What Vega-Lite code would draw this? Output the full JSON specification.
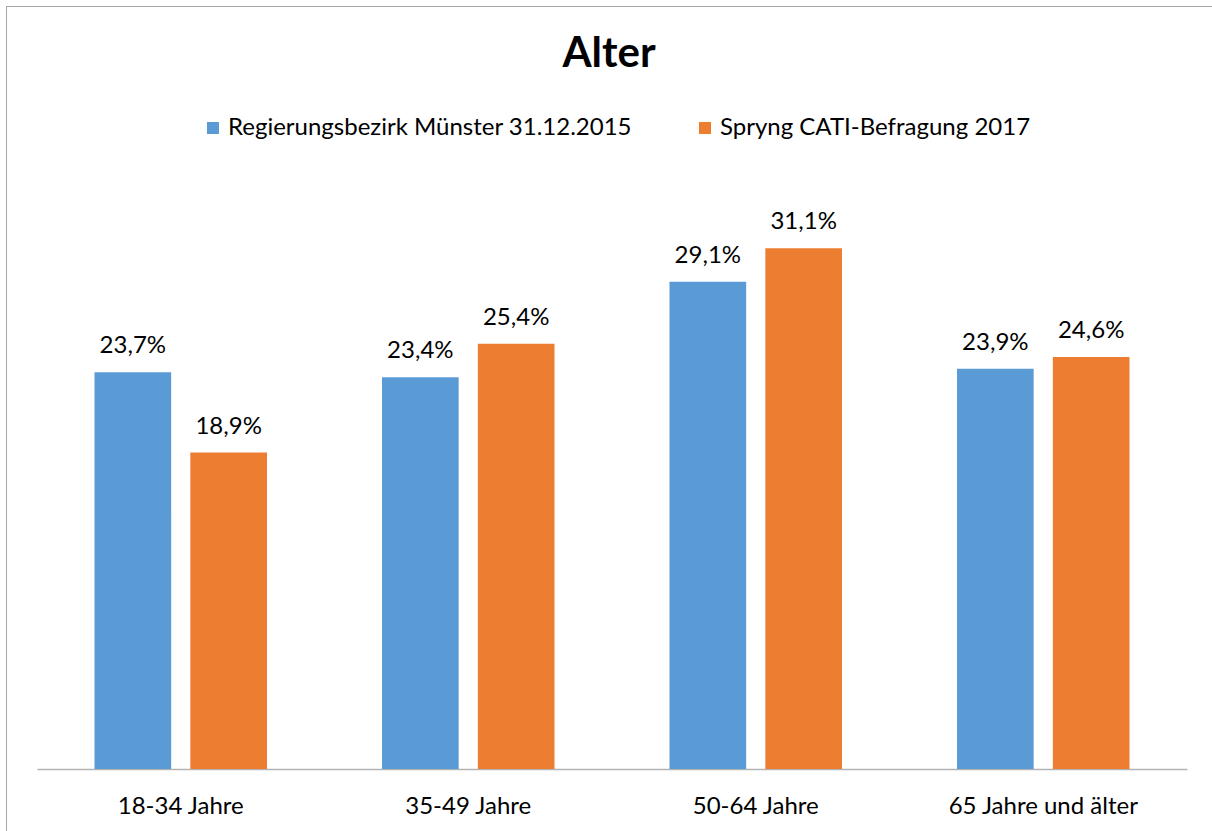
{
  "$schema": "https://vega.github.io/schema/vega-lite/v6.json",
  "width": 1206,
  "height": 825,
  "autosize": "none",
  "padding": {"left": 6, "top": 6, "right": 0, "bottom": 0},
  "background": "white",
  "view": {"stroke": "transparent", "strokeWidth": 0},
  "config": {
    "view": {"stroke": "transparent", "strokeWidth": 0},
    "font": "Lato",
    "locale": {"number": {"decimal": ",", "thousands": ".", "grouping": [3], "currency": ["", " €"]}}
  },
  "title": {
    "text": "Alter",
    "fontSize": 42,
    "fontWeight": "bold",
    "font": "Lato",
    "color": "black",
    "anchor": "middle",
    "frame": "group",
    "offset": -70
  },
  "datasets": {
    "alter": [
      {"Alter": "18-34 Jahre", "Quelle": "Regierungsbezirk Münster 31.12.2015", "Anteil": 0.237},
      {"Alter": "18-34 Jahre", "Quelle": "Spryng CATI-Befragung 2017", "Anteil": 0.189},
      {"Alter": "35-49 Jahre", "Quelle": "Regierungsbezirk Münster 31.12.2015", "Anteil": 0.234},
      {"Alter": "35-49 Jahre", "Quelle": "Spryng CATI-Befragung 2017", "Anteil": 0.254},
      {"Alter": "50-64 Jahre", "Quelle": "Regierungsbezirk Münster 31.12.2015", "Anteil": 0.291},
      {"Alter": "50-64 Jahre", "Quelle": "Spryng CATI-Befragung 2017", "Anteil": 0.311},
      {"Alter": "65 Jahre und älter", "Quelle": "Regierungsbezirk Münster 31.12.2015", "Anteil": 0.239},
      {"Alter": "65 Jahre und älter", "Quelle": "Spryng CATI-Befragung 2017", "Anteil": 0.246}
    ],
    "rahmen": [{"oben": 0.45541}]
  },
  "layer": [
    {
      "data": {"name": "rahmen"},
      "mark": {"type": "rule", "color": "#a6a6a6", "strokeWidth": 1},
      "encoding": {
        "y": {"field": "oben", "type": "quantitative"}
      }
    },
    {
      "data": {"name": "alter"},
      "mark": {"type": "bar"},
      "encoding": {
        "x": {
          "field": "Alter",
          "type": "nominal",
          "sort": null,
          "scale": {"range": [31, 1181], "paddingInner": 0.4, "paddingOuter": 0.2},
          "axis": {
            "title": null,
            "labelAngle": 0,
            "labelFontSize": 24,
            "labelColor": "black",
            "labelFont": "Lato",
            "labelBaseline": "alphabetic",
            "labelPadding": 44,
            "labelLimit": 0,
            "ticks": false,
            "tickSize": 0,
            "domainColor": "#b3b3b3",
            "domainWidth": 1.5,
            "offset": -62,
            "grid": false
          }
        },
        "xOffset": {
          "field": "Quelle",
          "type": "nominal",
          "sort": null,
          "scale": {"paddingInner": 0.2, "paddingOuter": 0}
        },
        "y": {
          "field": "Anteil",
          "type": "quantitative",
          "scale": {"domain": [-0.03703, 0.45571], "nice": false, "zero": false},
          "axis": {
            "title": null,
            "orient": "left",
            "labels": false,
            "ticks": false,
            "domain": true,
            "domainColor": "#a6a6a6",
            "domainWidth": 1,
            "grid": false,
            "offset": 0
          }
        },
        "y2": {"datum": 0},
        "color": {
          "field": "Quelle",
          "type": "nominal",
          "sort": null,
          "scale": {"range": ["#5B9BD5", "#ED7D31"]},
          "legend": {
            "title": null,
            "orient": "none",
            "legendX": 195,
            "legendY": 110,
            "direction": "horizontal",
            "symbolType": "square",
            "symbolSize": 144,
            "symbolStrokeWidth": 0,
            "labelFontSize": 24,
            "labelColor": "black",
            "labelFont": "Lato",
            "labelOffset": 3,
            "labelLimit": 0,
            "columnPadding": 60
          }
        }
      }
    },
    {
      "data": {"name": "alter"},
      "mark": {"type": "text", "baseline": "alphabetic", "dy": -19, "fontSize": 24, "color": "black", "font": "Lato"},
      "encoding": {
        "x": {"field": "Alter", "type": "nominal", "sort": null},
        "xOffset": {"field": "Quelle", "type": "nominal", "sort": null},
        "y": {"field": "Anteil", "type": "quantitative"},
        "text": {"field": "Anteil", "type": "quantitative", "format": ".1%"}
      }
    }
  ]
}
